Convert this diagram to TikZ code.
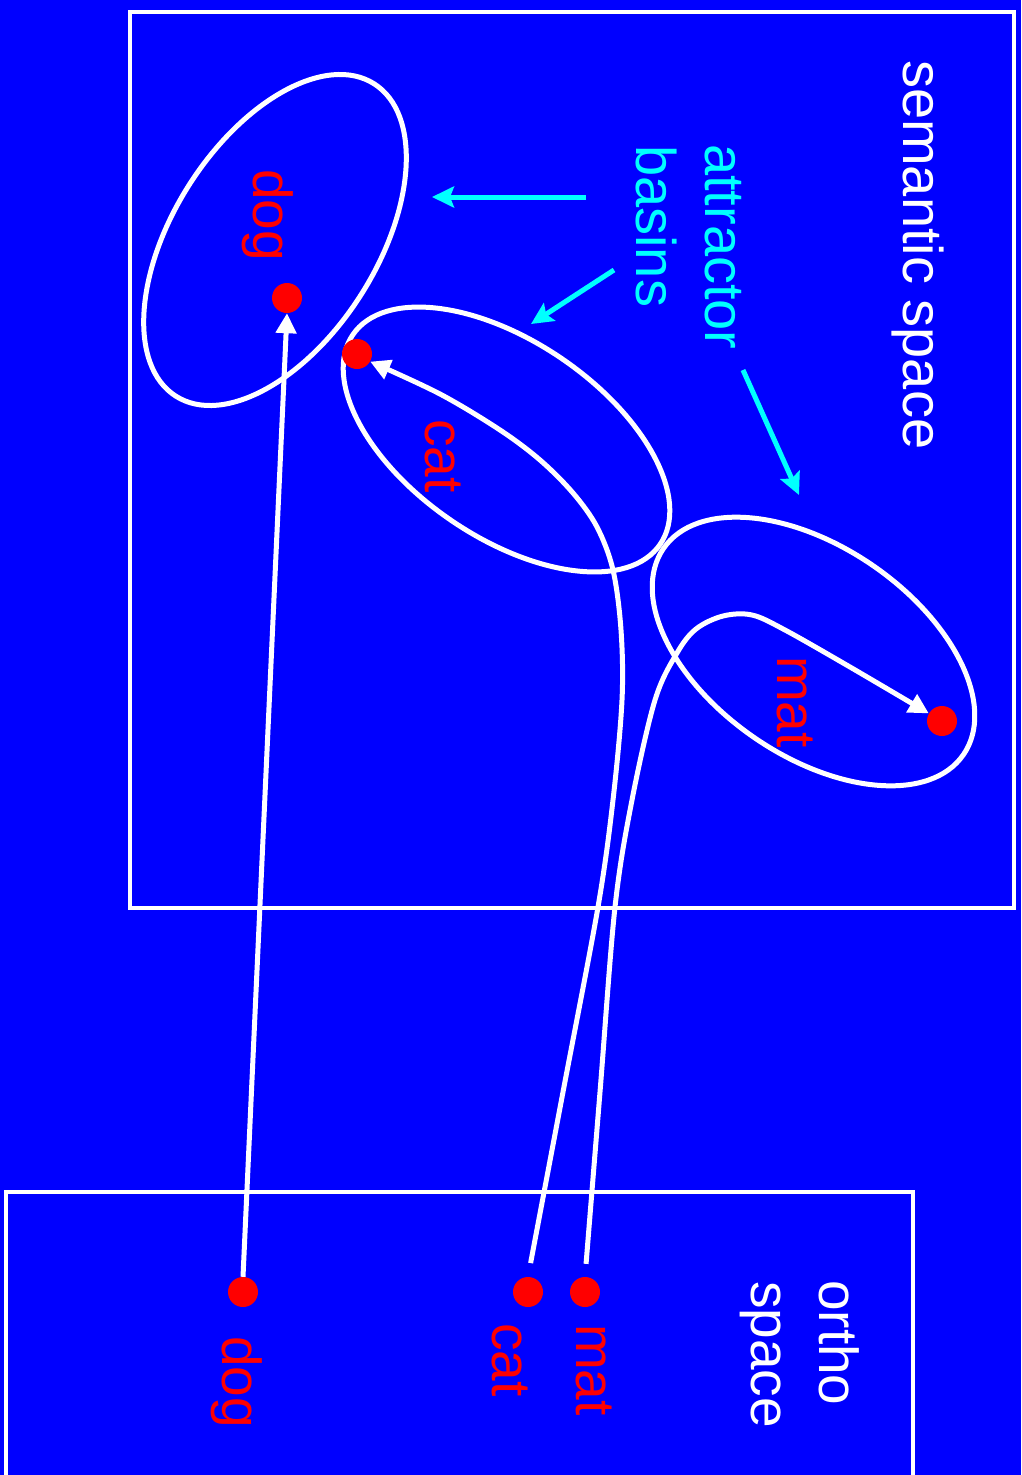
\documentclass[tikz,border=0pt]{standalone}
\usepackage{fontspec}
\setmainfont{Liberation Sans}
\usetikzlibrary{arrows.meta}
\definecolor{bg}{RGB}{0,0,255}
\definecolor{cy}{RGB}{0,255,255}
\definecolor{rd}{RGB}{255,0,0}
\begin{document}
\begin{tikzpicture}[x=1pt,y=1pt,
  box/.style={draw=white, line width=4.5pt},
  basin/.style={draw=white, line width=5pt},
  dot/.style={circle, fill=rd, minimum size=30pt, inner sep=0pt},
  lbl/.style={rotate=-90, inner sep=0pt, font=\fontsize{55}{60}\selectfont},
  biglbl/.style={rotate=-90, inner sep=0pt, font=\fontsize{56}{60}\selectfont},
  link/.style={draw=white, line width=5pt, -{Triangle[length=20pt,width=20pt]}},
  pointer/.style={draw=cy, line width=5pt, -{Stealth[length=22pt,width=21pt,inset=4pt]}}]
\useasboundingbox (0,0) rectangle (1021,-1475);
\fill[bg] (0,0) rectangle (1021,-1475);
\clip (0,0) rectangle (1021,-1475);
% boxes
\draw[box] (130,-12) rectangle (1014,-908);
\draw[box] (6,-1520) -- (6,-1192) -- (913,-1192) -- (913,-1520);
% basins
\draw[basin, rotate around={57.6:(275,-240)}] (275,-240) ellipse [x radius=185, y radius=102];
\draw[basin, rotate around={-34.3:(506.5,-439.5)}] (506.5,-439.5) ellipse [x radius=186, y radius=98];
\draw[basin, rotate around={-34.5:(813.5,-651.5)}] (813.5,-651.5) ellipse [x radius=182, y radius=104.5];
% dots
\node[dot] (sdog) at (287,-298) {};
\node[dot] (scat) at (357,-354) {};
\node[dot] (smat) at (942,-721) {};
\node[dot] (odog) at (243,-1292) {};
\node[dot] (ocat) at (528,-1292) {};
\node[dot] (omat) at (585,-1292) {};
% labels
\node[biglbl, text=white, anchor=base west] (tsem) at (903,-60) {semantic space};
\node[biglbl, text=cy, anchor=base west] (tatt) at (705,-144) {attractor};
\node[biglbl, text=cy, anchor=base west] (tbas) at (636,-145) {basins};
\node[lbl, text=rd, anchor=base] (ldog) at (253,-215) {dog};
\node[lbl, text=rd, anchor=base] (lcat) at (425,-456) {cat};
\node[lbl, text=rd, anchor=base] (lmat) at (777,-702) {mat};
\node[lbl, text=rd, anchor=base] (odogl) at (222,-1382) {dog};
\node[lbl, text=rd, anchor=base] (ocatl) at (492,-1360) {cat};
\node[lbl, text=rd, anchor=base] (omatl) at (576,-1370) {mat};
\node[lbl, text=white, anchor=base west] (tor) at (819,-1280) {ortho};
\node[lbl, text=white, anchor=base west] (tsp) at (751,-1281) {space};
% cyan pointers
\coordinate (p1s) at (586,-197); \coordinate (p1e) at (432,-197);
\coordinate (p2s) at (614,-270); \coordinate (p2e) at (531,-324);
\coordinate (p3s) at (743,-370); \coordinate (p3e) at (799,-495);
\draw[pointer] (p1s) -- (p1e);
\draw[pointer] (p2s) -- (p2e);
\draw[pointer] (p3s) -- (p3e);
% connectors
\draw[link] (odog.north) -- (sdog.south);
\coordinate (c1) at (563,-1092); \coordinate (c2) at (598,-907);
\coordinate (c3) at (613,-800); \coordinate (c4) at (622,-700);
\coordinate (c5) at (621,-630); \coordinate (c6) at (613,-570);
\coordinate (c7) at (597,-527); \coordinate (c8) at (573,-493);
\coordinate (c9) at (540,-460); \coordinate (c10) at (500,-430);
\coordinate (c11) at (440,-394);
\draw[link, shorten <=14pt] plot[smooth, tension=0.55] coordinates {(ocat.north) (c1) (c2) (c3) (c4) (c5) (c6) (c7) (c8) (c9) (c10) (c11) (scat.-30)};
\coordinate (m1) at (600,-1092); \coordinate (m2) at (615,-907);
\coordinate (m3) at (632,-800); \coordinate (m4) at (655,-700);
\coordinate (m5) at (677,-653); \coordinate (m6) at (696,-629);
\coordinate (m7) at (723,-616); \coordinate (m8) at (752,-615);
\coordinate (m9) at (785,-630); \coordinate (m10) at (850,-667);
\draw[link, shorten <=13pt] plot[smooth, tension=0.55] coordinates {(omat.north) (m1) (m2) (m3) (m4) (m5) (m6) (m7) (m8) (m9) (m10) (smat.150)};
\end{tikzpicture}
\end{document}
